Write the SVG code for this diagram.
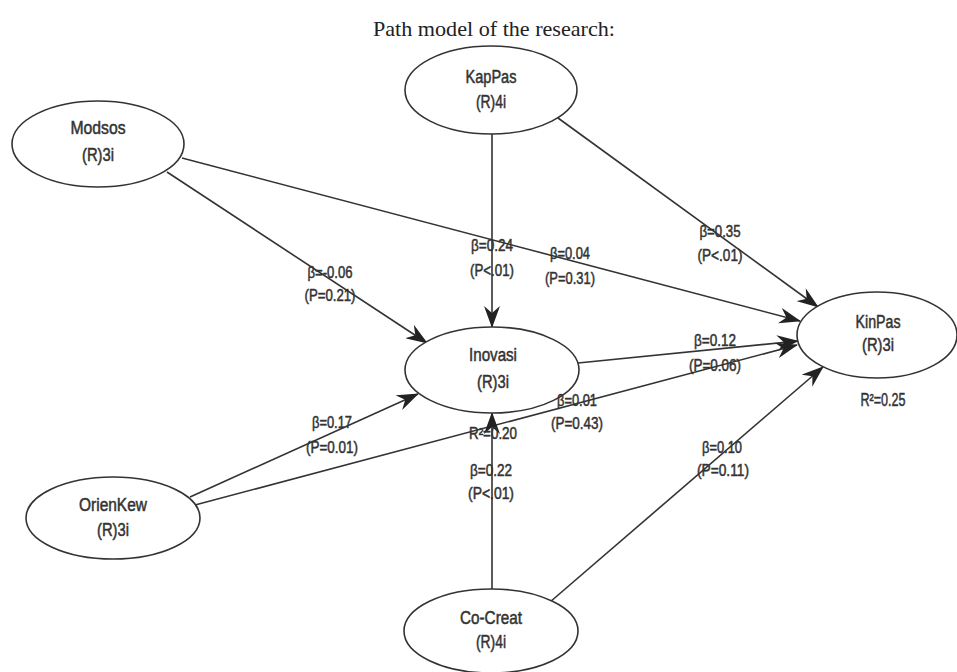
<svg xmlns="http://www.w3.org/2000/svg" width="957" height="672" viewBox="0 0 957 672">
<defs>
<style>
.node ellipse{fill:#fff;stroke:#333;stroke-width:1.6}
.node text,.lbl{font-family:"Liberation Sans",Arial,sans-serif;font-size:18px;fill:#333;stroke:#333;stroke-width:0.5;text-anchor:middle}
.lbl{font-size:16px}
.conn line{stroke:#333;stroke-width:1.6;marker-end:url(#arr)}
.title{font-family:"Liberation Serif","Times New Roman",serif;font-size:21px;fill:#222;text-anchor:middle}
</style>
<marker id="arr" viewBox="0 0 22 16" refX="21" refY="8" markerWidth="22" markerHeight="16" markerUnits="userSpaceOnUse" orient="auto">
<path d="M0,0 L22,8 L0,16 L7,8 z" fill="#222"/>
</marker>
</defs>
<rect width="957" height="672" fill="#fff"/>
<text class="title" x="494" y="36" textLength="242" lengthAdjust="spacingAndGlyphs">Path model of the research:</text>

<g id="connectors" class="conn">
<line x1="167" y1="172" x2="427" y2="343"/>
<line x1="182" y1="158" x2="800" y2="321"/>
<line x1="558" y1="118" x2="818" y2="307"/>
<line x1="492" y1="134" x2="492" y2="327"/>
<line x1="578" y1="363" x2="798" y2="341"/>
<line x1="190" y1="497" x2="418" y2="394"/>
<line x1="195" y1="505" x2="797" y2="345"/>
<line x1="492" y1="589" x2="492" y2="413"/>
<line x1="550" y1="602" x2="823" y2="367"/>
</g>

<g id="node-kappas" class="node">
<ellipse cx="491" cy="90" rx="86" ry="44"/>
<text x="491" y="83" textLength="51" lengthAdjust="spacingAndGlyphs">KapPas</text>
<text x="491" y="108" textLength="30" lengthAdjust="spacingAndGlyphs">(R)4i</text>
</g>
<g id="node-modsos" class="node">
<ellipse cx="98" cy="144" rx="86" ry="43"/>
<text x="98" y="134" textLength="55" lengthAdjust="spacingAndGlyphs">Modsos</text>
<text x="98" y="161" textLength="32" lengthAdjust="spacingAndGlyphs">(R)3i</text>
</g>
<g id="node-inovasi" class="node">
<ellipse cx="492" cy="370" rx="87" ry="43"/>
<text x="493" y="361" textLength="48" lengthAdjust="spacingAndGlyphs">Inovasi</text>
<text x="493" y="388" textLength="32" lengthAdjust="spacingAndGlyphs">(R)3i</text>
</g>
<g id="node-kinpas" class="node">
<ellipse cx="877" cy="335" rx="80" ry="43"/>
<text x="878" y="328" textLength="45" lengthAdjust="spacingAndGlyphs">KinPas</text>
<text x="878" y="351" textLength="32" lengthAdjust="spacingAndGlyphs">(R)3i</text>
<text x="883" y="406" textLength="45" lengthAdjust="spacingAndGlyphs">R²=0.25</text>
</g>
<g id="node-orienkew" class="node">
<ellipse cx="113" cy="518" rx="87" ry="41"/>
<text x="113" y="511" textLength="68" lengthAdjust="spacingAndGlyphs">OrienKew</text>
<text x="113" y="536" textLength="32" lengthAdjust="spacingAndGlyphs">(R)3i</text>
</g>
<g id="node-cocreat" class="node">
<ellipse cx="491" cy="631" rx="87" ry="42"/>
<text x="491" y="624" textLength="62" lengthAdjust="spacingAndGlyphs">Co-Creat</text>
<text x="491" y="648" textLength="30" lengthAdjust="spacingAndGlyphs">(R)4i</text>
</g>

<g id="labels">
<text class="lbl" x="330" y="278" textLength="45" lengthAdjust="spacingAndGlyphs">β=-0.06</text>
<text class="lbl" x="330" y="301" textLength="51" lengthAdjust="spacingAndGlyphs">(P=0.21)</text>
<text class="lbl" x="492" y="251" textLength="42" lengthAdjust="spacingAndGlyphs">β=0.24</text>
<text class="lbl" x="492" y="276" textLength="44" lengthAdjust="spacingAndGlyphs">(P&lt;.01)</text>
<text class="lbl" x="570" y="259" textLength="40" lengthAdjust="spacingAndGlyphs">β=0.04</text>
<text class="lbl" x="570" y="284" textLength="50" lengthAdjust="spacingAndGlyphs">(P=0.31)</text>
<text class="lbl" x="720" y="237" textLength="41" lengthAdjust="spacingAndGlyphs">β=0.35</text>
<text class="lbl" x="720" y="261" textLength="45" lengthAdjust="spacingAndGlyphs">(P&lt;.01)</text>
<text class="lbl" x="715" y="346" textLength="42" lengthAdjust="spacingAndGlyphs">β=0.12</text>
<text class="lbl" x="715" y="371" textLength="52" lengthAdjust="spacingAndGlyphs">(P=0.06)</text>
<text class="lbl" x="577" y="406" textLength="40" lengthAdjust="spacingAndGlyphs">β=0.01</text>
<text class="lbl" x="577" y="429" textLength="52" lengthAdjust="spacingAndGlyphs">(P=0.43)</text>
<text class="lbl" x="493" y="439" textLength="48" lengthAdjust="spacingAndGlyphs">R²=0.20</text>
<text class="lbl" x="332" y="428" textLength="40" lengthAdjust="spacingAndGlyphs">β=0.17</text>
<text class="lbl" x="332" y="453" textLength="52" lengthAdjust="spacingAndGlyphs">(P=0.01)</text>
<text class="lbl" x="491" y="476" textLength="42" lengthAdjust="spacingAndGlyphs">β=0.22</text>
<text class="lbl" x="491" y="499" textLength="46" lengthAdjust="spacingAndGlyphs">(P&lt;.01)</text>
<text class="lbl" x="722" y="453" textLength="40" lengthAdjust="spacingAndGlyphs">β=0.10</text>
<text class="lbl" x="723" y="476" textLength="52" lengthAdjust="spacingAndGlyphs">(P=0.11)</text>
</g>
</svg>
